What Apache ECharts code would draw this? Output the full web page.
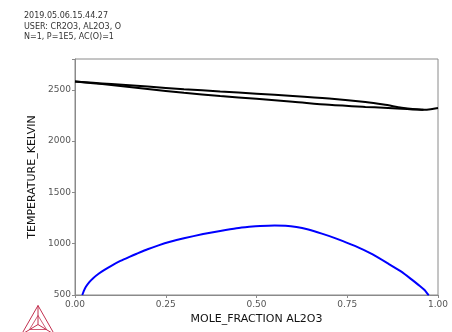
<!DOCTYPE html>
<html>
<head>
<meta charset="utf-8">
<script src="https://cdn.jsdelivr.net/npm/echarts@6/dist/echarts.min.js"></script>
<style>
  html, body { margin: 0; padding: 0; background: #fff; }
  #chart { width: 452px; height: 332px; }
</style>
</head>
<body>
<div id="chart"></div>
<script>
// header lines
const headerLines = [
  "2019.05.06.15.44.27",
  "USER: CR2O3, AL2O3, O",
  "N=1, P=1E5, AC(O)=1",
]

// liquidus (upper black)
const liquidus = [
  [0.0, 2580], [0.05, 2568], [0.1, 2556], [0.2, 2531], [0.3, 2506],
  [0.4, 2483], [0.5, 2462], [0.6, 2440], [0.7, 2414], [0.8, 2380],
  [0.85, 2356], [0.9, 2326], [0.93, 2312], [0.96, 2305], [0.98, 2310],
  [1.0, 2322],
]

// solidus (lower black)
const solidus = [
  [0.0, 2580], [0.05, 2564], [0.1, 2546], [0.2, 2508], [0.3, 2471],
  [0.4, 2440], [0.5, 2412], [0.6, 2384], [0.7, 2354], [0.8, 2333],
  [0.85, 2325], [0.9, 2315], [0.93, 2309], [0.96, 2305],
]

// miscibility gap (blue)
const gap = [
  [0.02, 500], [0.025, 545], [0.03, 580], [0.04, 628], [0.05, 664],
  [0.065, 707], [0.08, 742], [0.1, 785], [0.125, 832], [0.15, 872],
  [0.17, 902], [0.2, 946], [0.23, 984], [0.262, 1019], [0.3, 1053],
  [0.353, 1094], [0.4, 1124], [0.445, 1150], [0.48, 1164], [0.51, 1173],
  [0.55, 1178], [0.58, 1175], [0.61, 1162], [0.64, 1140], [0.68, 1098],
  [0.72, 1050], [0.771, 978], [0.82, 895], [0.863, 805], [0.9, 725],
  [0.927, 652], [0.95, 588], [0.963, 548], [0.973, 505], [0.975, 500],
]

const xTicks = [0, 0.25, 0.5, 0.75, 1]

const chart = echarts.init(document.getElementById("chart"))

const logoColor = "#c2304f"

chart.setOption({
  animation: false,
  grid: {
    left: 75,
    right: 14,
    top: 59,
    bottom: 37,
    show: true,
    borderColor: "#8a8a8a",
    borderWidth: 1,
  },
  xAxis: {
    type: "value",
    min: 0,
    max: 1,
    interval: 0.25,
    name: "MOLE_FRACTION AL2O3",
    nameLocation: "middle",
    nameGap: 19,
    nameTextStyle: { color: "#111", fontSize: 11, fontFamily: "DejaVu Sans" },
    axisLine: { lineStyle: { color: "#8a8a8a" } },
    axisTick: { length: 3, lineStyle: { color: "#8a8a8a" } },
    axisLabel: {
      color: "#555",
      fontSize: 9,
      fontFamily: "DejaVu Sans",
      margin: 5,
      formatter: (v) => (xTicks.includes(v) ? v.toFixed(2) : ""),
    },
    splitLine: { show: false },
  },
  yAxis: {
    type: "value",
    min: 500,
    max: 2800,
    interval: 500,
    name: "TEMPERATURE_KELVIN",
    nameLocation: "middle",
    nameGap: 32,
    nameTextStyle: { color: "#111", fontSize: 11, fontFamily: "DejaVu Sans" },
    axisLine: { show: true, lineStyle: { color: "#8a8a8a" } },
    axisTick: { show: true, length: 3, lineStyle: { color: "#8a8a8a" } },
    axisLabel: {
      color: "#555",
      fontSize: 9,
      fontFamily: "DejaVu Sans",
      margin: 4,
      formatter: (v) => (v <= 2500 ? String(v) : ""),
    },
    splitLine: { show: false },
  },
  series: [
    {
      type: "line",
      data: liquidus,
      showSymbol: false,
      smooth: 0.3,
      lineStyle: { color: "#000", width: 2 },
    },
    {
      type: "line",
      data: solidus,
      showSymbol: false,
      smooth: 0.3,
      lineStyle: { color: "#000", width: 2 },
    },
    {
      type: "line",
      data: gap,
      showSymbol: false,
      smooth: 0.15,
      lineStyle: { color: "#0000ff", width: 2 },
    },
  ],
  graphic: [
    {
      type: "text",
      left: 24,
      top: 11,
      style: {
        text: headerLines.join("\n"),
        fill: "#333",
        font: "8px DejaVu Sans",
        lineHeight: 10.3,
      },
    },
    // Thermo-Calc logo
    {
      type: "group",
      left: 19,
      top: 303,
      children: [
        {
          type: "polygon",
          shape: { points: [[16.5, 0], [0, 29], [33, 29]] },
          style: { fill: "none", stroke: logoColor, lineWidth: 1 },
        },
        {
          type: "polyline",
          shape: { points: [[16.5, 0], [16.5, 19], [0, 29]] },
          style: { fill: "none", stroke: logoColor, lineWidth: 1 },
        },
        {
          type: "polyline",
          shape: { points: [[16.5, 19], [33, 29]] },
          style: { fill: "none", stroke: logoColor, lineWidth: 1 },
        },
        {
          type: "polygon",
          shape: { points: [[16.5, 10], [8, 24], [25, 24]] },
          style: { fill: "none", stroke: logoColor, lineWidth: 0.8 },
        },
      ],
    },
  ],
})
</script>
</body>
</html>
